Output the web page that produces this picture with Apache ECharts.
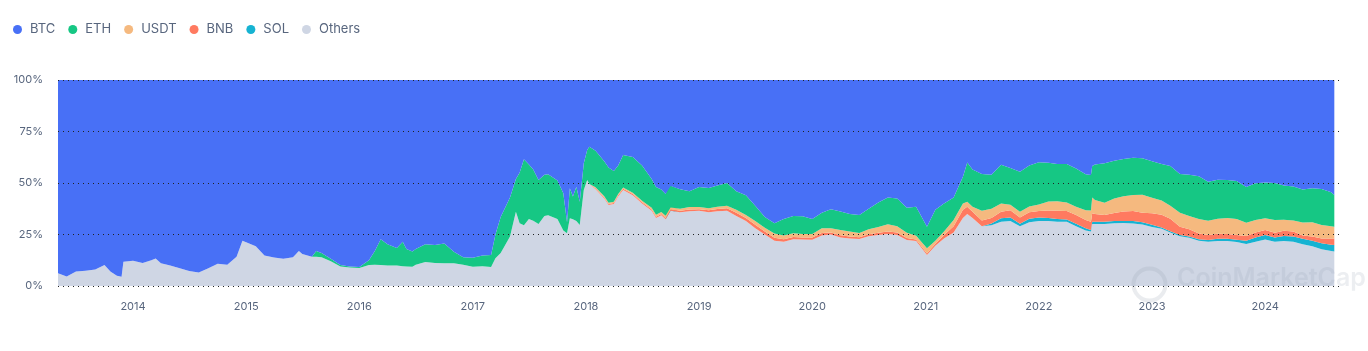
<!DOCTYPE html>
<html><head><meta charset="utf-8">
<script src="https://cdn.jsdelivr.net/npm/echarts@6/dist/echarts.min.js"></script>
<style>html,body{margin:0;padding:0;background:#fff}#c{width:1368px;height:351px}</style>
</head><body><div id="c"></div>
<script>
const dates = ['2013-05-04','2013-06-01','2013-07-01','2013-08-01','2013-09-01','2013-10-01','2013-10-20','2013-11-10','2013-11-25','2013-12-01',
'2014-01-01','2014-02-01','2014-03-01','2014-03-15','2014-04-01','2014-05-01','2014-06-01','2014-07-01','2014-08-01','2014-09-01',
'2014-10-01','2014-11-01','2014-12-01','2014-12-20','2015-01-01','2015-02-01','2015-03-01','2015-04-01','2015-05-01','2015-06-01',
'2015-06-20','2015-07-01','2015-08-01','2015-08-15','2015-09-01','2015-10-01','2015-11-01','2015-12-01','2016-01-01','2016-02-01',
'2016-02-20','2016-03-10','2016-04-01','2016-05-01','2016-05-20','2016-06-01','2016-06-20','2016-07-01','2016-08-01','2016-09-01',
'2016-10-01','2016-11-01','2016-12-01','2017-01-01','2017-02-01','2017-03-01','2017-03-15','2017-04-01','2017-05-01','2017-05-20',
'2017-06-01','2017-06-15','2017-07-01','2017-07-15','2017-08-01','2017-08-20','2017-09-01','2017-10-01','2017-10-20','2017-11-01',
'2017-11-10','2017-11-20','2017-12-01','2017-12-12','2017-12-25','2018-01-05','2018-01-12','2018-02-01','2018-03-01','2018-03-15',
'2018-04-01','2018-04-15','2018-05-01','2018-06-01','2018-07-01','2018-08-01','2018-08-15','2018-09-01','2018-09-15','2018-09-25',
'2018-10-01','2018-11-01','2018-12-01',
'2019-01-01','2019-02-01','2019-03-01','2019-04-01','2019-05-01','2019-06-01','2019-07-01','2019-08-01','2019-09-01','2019-10-01','2019-11-01','2019-12-01',
'2020-01-01','2020-02-01','2020-03-01','2020-04-01','2020-05-01','2020-06-01','2020-07-01','2020-08-01','2020-09-01','2020-10-01','2020-11-01','2020-12-01',
'2021-01-05','2021-02-01','2021-03-01','2021-04-01','2021-05-01','2021-05-15','2021-06-01','2021-07-01',
'2021-08-01','2021-09-01','2021-10-01','2021-11-01','2021-12-01',
'2022-01-01','2022-02-01','2022-03-01','2022-04-01','2022-05-01','2022-06-01','2022-06-18','2022-06-22',
'2022-07-01','2022-08-01','2022-09-01','2022-10-01','2022-11-01','2022-12-01',
'2023-01-01','2023-02-01','2023-03-01','2023-04-01','2023-05-01','2023-06-01','2023-07-01','2023-08-01','2023-09-01','2023-10-01','2023-11-01','2023-12-01',
'2024-01-01','2024-02-01','2024-03-01','2024-04-01','2024-05-01','2024-06-01','2024-07-01','2024-08-01','2024-08-11'];

const others = [6.2,4.6,7.0,7.4,8.0,10.2,7.0,5.0,4.5,11.8,
12.3,11.2,12.5,13.4,11.0,10.0,8.6,7.3,6.6,8.6,
10.8,10.3,14.2,22.0,21.2,19.3,14.8,13.8,13.2,13.9,
17.0,15.5,14.2,14.2,14.0,12.0,9.5,9.0,8.7,10.2,
10.3,10.2,10.0,9.9,9.6,9.5,9.4,10.3,11.6,11.2,
11.0,11.0,10.3,9.4,9.6,9.2,13.5,16.0,24.0,36.0,
30.5,29.5,32.5,31.7,30.1,34.0,34.3,32.5,27.0,25.6,
32.9,32.4,31.5,29.6,46.6,51.5,49.5,47.0,42.5,39.3,
39.8,43.4,46.6,44.0,40.0,36.5,33.0,34.3,32.4,37.0,
36.5,35.8,36.3,
36.5,35.8,36.3,36.5,34.0,31.5,28.0,25.0,22.0,21.5,22.7,22.6,
22.5,24.5,25.0,23.6,23.0,22.8,24.2,24.8,25.2,24.8,22.3,21.8,
15.0,19.5,23.0,26.0,33.0,35.0,33.0,29.0,
29.5,31.2,31.5,29.0,31.0,
31.6,31.5,31.2,31.2,29.0,27.0,26.4,30.1,
30.1,30.1,30.5,30.6,30.4,29.8,
28.6,27.8,26.0,24.2,23.4,22.0,21.5,21.8,21.8,21.3,20.4,21.5,
22.6,21.5,21.8,21.5,20.3,19.3,17.8,17.0,16.7];

const eth = [0,0,0,0,0,0,0,0,0,0, 0,0,0,0,0,0,0,0,0,0, 0,0,0,0,0,0,0,0,0,0, 0,0,0,
2.8,2.0,1.2,0.7,0.5,0.5,2.3,6.7,12.5,10.3,8.6,11.9,8.5,7.3,7.7,8.7,8.7,9.6,5.6,3.6,4.3,5.2,5.8,
11.5,17.5,19.0,16.0,24.5,32.0,26.5,24.8,21.4,20.0,20.0,18.7,18.0,5.4,14.5,11.0,16.7,11.3,13.0,14.5,18.1,
17.7,16.9,17.1,14.9,13.9,15.8,17.3,17.1,14.0,13.4,10.9,10.6,10.4,10.4,9.5,7.7,
9.7,9.8,10.3,11.0,9.0,9.5,7.5,5.2,5.0,8.0,8.4,8.5,
7.2,7.5,9.2,9.0,8.6,8.8,10.0,11.9,13.0,13.5,12.2,14.1,
10.5,15.0,13.5,11.0,13.0,19.0,18.0,17.9,
16.5,18.8,17.8,19.5,19.9,
20.5,18.8,18.0,18.7,18.5,17.5,17.3,15.3,
17.2,19.2,18.3,18.0,18.1,17.7,
17.7,17.7,19.2,18.9,20.0,20.8,18.9,19.0,18.5,18.5,17.3,17.9,
17.3,18.0,16.6,16.5,16.0,16.4,17.5,16.5,15.4];

const usdt = [0,0,0,0,0,0,0,0,0,0, 0,0,0,0,0,0,0,0,0,0, 0,0,0,0,0,0,0,0,0,0, 0,0,0,0,0,0,0,0,0,0,
0,0,0,0,0,0,0,0,0,0, 0,0,0,0,0,0,0,0,0,0, 0,0,0,0,0,0,0,0,0,0, 0,0,0,0,0,0,0,
0.5,0.6,0.6,0.6,0.6,0.6,0.7,0.8,0.9,1.0,1.0,1.1,1.0,1.0,1.0,1.2,
1.0,1.0,1.1,1.3,1.5,1.5,1.8,1.8,2.1,1.8,1.8,1.7,
1.8,2.3,2.0,2.6,2.4,2.0,2.4,2.8,3.5,3.0,2.5,1.8,
2.5,1.5,1.7,3.0,3.0,2.4,2.5,4.7,
4.5,4.0,2.7,2.8,2.8,
3.2,4.3,4.7,4.1,4.0,4.8,5.4,7.7,
6.8,5.9,7.1,7.4,7.8,8.8,
7.5,6.9,6.4,6.7,6.5,7.0,6.9,7.2,7.7,7.8,6.4,6.0,
5.7,6.1,5.4,5.3,6.3,7.0,6.5,5.9,5.7];

const bnb = [0,0,0,0,0,0,0,0,0,0, 0,0,0,0,0,0,0,0,0,0, 0,0,0,0,0,0,0,0,0,0, 0,0,0,0,0,0,0,0,0,0,
0,0,0,0,0,0,0,0,0,0, 0,0,0,0,0,0,0,0,0,0, 0,0,0,0,0,0,0,0,0,0, 0,0,0,0,0,0,0,
0.4,0.5,0.5,0.5,0.6,0.6,0.6,0.6,0.6,0.6,0.6,0.6,0.6,0.6,0.7,0.8,
0.8,1.0,1.1,1.2,1.5,1.5,1.7,1.5,1.4,1.2,1.1,1.0,
1.0,1.2,1.0,1.0,1.0,0.9,0.9,1.0,1.3,1.2,1.0,0.8,
0.8,1.0,1.8,3.0,4.0,3.5,3.0,2.8,
2.7,3.1,3.5,3.0,3.1,
3.2,3.7,4.0,4.1,4.3,4.0,4.0,4.1,
3.8,3.3,3.9,4.6,4.9,4.6,
5.6,6.2,6.0,4.0,3.5,2.8,2.5,2.5,2.4,2.2,2.3,2.4,
2.4,2.3,2.5,2.5,1.6,2.0,2.4,3.1,3.2];

const sol = [0,0,0,0,0,0,0,0,0,0, 0,0,0,0,0,0,0,0,0,0, 0,0,0,0,0,0,0,0,0,0, 0,0,0,0,0,0,0,0,0,0,
0,0,0,0,0,0,0,0,0,0, 0,0,0,0,0,0,0,0,0,0, 0,0,0,0,0,0,0,0,0,0, 0,0,0,0,0,0,0,0,0,0,
0,0,0,0,0,0,0,0,0,0, 0,0,0,0,0,0,0,0,0,0, 0,0,0,0,0,0,0,0,0,0, 0,0,0,0,0,0,0,0,0,0,
0,0,0,0,0,
0.8,1.7,1.8,1.2,1.7,
1.6,1.5,1.3,1.1,1.2,1.0,0.8,1.1,
1.1,1.1,1.0,1.0,1.1,1.1,
1.1,0.6,0.6,0.6,0.6,0.7,0.8,1.1,1.1,1.2,1.6,2.1,
2.2,2.1,2.5,2.5,2.6,2.7,2.9,3.0,3.2];

const btc = [93.8,95.4,93.0,92.6,92.0,89.8,93.0,95.0,95.5,88.2,
87.7,88.8,87.5,86.6,89.0,90.0,91.4,92.7,93.4,91.4,
89.2,89.7,85.8,78.0,78.8,80.7,85.2,86.2,86.8,86.1,
83.0,84.5,85.8,
83.0,84.0,86.8,89.8,90.5,90.8,87.5,83.0,77.3,79.7,81.5,78.5,82.0,83.3,82.0,79.7,80.1,79.4,83.4,86.1,86.3,85.2,85.0,
75.0,66.5,57.0,48.0,45.0,38.5,41.0,43.5,48.5,46.0,45.7,48.8,55.0,69.0,52.6,56.6,51.8,59.1,40.4,34.0,32.4,
34.4,39.5,42.5,44.2,41.5,36.4,37.4,41.5,48.0,52.0,53.2,55.3,51.0,51.5,53.0,54.0,
52.0,52.4,51.2,50.0,54.0,56.0,61.0,66.5,69.5,67.5,66.0,66.2,
67.5,64.5,62.8,63.8,65.0,65.5,62.5,59.5,57.0,57.5,62.0,61.5,
71.2,63.0,60.0,57.0,47.0,40.1,43.5,45.6,
46.0,41.2,42.7,44.5,41.5,
39.9,40.2,40.8,40.8,43.0,45.7,46.1,41.7,
41.0,40.4,39.2,38.4,37.7,38.0,
39.5,40.8,41.8,45.6,46.0,46.7,49.4,48.4,48.5,49.0,52.0,50.1,
49.8,50.0,51.2,51.7,53.2,52.6,52.9,54.5,55.8];

const legendNames = ['BTC','ETH','USDT','BNB','SOL','Others'];
const yTicks = [0,25,50,75,100];

const colors = {BTC:'#4870f6', ETH:'#16c784', USDT:'#f5b97f', BNB:'#ff7a60', SOL:'#16b3d2', Others:'#cfd6e4'};
const font = 'Inter, "Noto Sans", sans-serif';

function pairs(arr){ return dates.map((d,i)=>[d, arr[i]]); }
function mk(name, arr){
  return {name, type:'line', stack:'total', data:pairs(arr), symbol:'none', showSymbol:false,
    lineStyle:{width:0}, areaStyle:{color:colors[name], opacity:1}, itemStyle:{color:colors[name]},
    emphasis:{disabled:true}, z:2};
}

const chart = echarts.init(document.getElementById('c'), null, {renderer:'canvas'});
chart.setOption({
  animation:false,
  legend:{left:8, top:18, icon:'circle', itemWidth:15, itemHeight:9, itemGap:13, data:legendNames,
    textStyle:{color:'#58667e', fontSize:13, fontFamily:font}},
  grid:{left:58, right:25, top:80, bottom:65},
  xAxis:{type:'time', min:'2013-05-04', max:'2024-09-08', splitNumber:12,
    axisLine:{show:false}, axisTick:{show:false}, splitLine:{show:false},
    axisLabel:{margin:15, color:'#58667e', fontSize:11, fontFamily:font, showMinLabel:false, showMaxLabel:false,
      formatter:function(v){ const d=new Date(v); return (d.getMonth()===0 && d.getDate()===1) ? String(d.getFullYear()) : ''; }}},
  yAxis:{type:'value', min:yTicks[0], max:yTicks[yTicks.length-1], interval:25, z:10,
    axisLine:{show:false}, axisTick:{show:false},
    axisLabel:{formatter:'{value}%', margin:15, color:'#58667e', fontSize:11, fontFamily:font},
    splitLine:{show:true, lineStyle:{type:[1,4], color:'#222', width:1}}},
  graphic:[
    {type:'circle', left:1131, top:266, shape:{r:16}, style:{fill:'none', stroke:'rgba(150,160,175,0.2)', lineWidth:4}, z:20, silent:true},
    {type:'text', left:1177, top:266, style:{text:'CoinMarketCap', font:'600 25px '+font, fill:'rgba(150,160,175,0.18)'}, z:20, silent:true}
  ],
  series:[mk('Others',others), mk('SOL',sol), mk('BNB',bnb), mk('USDT',usdt), mk('ETH',eth), mk('BTC',btc)]
});
</script></body></html>
